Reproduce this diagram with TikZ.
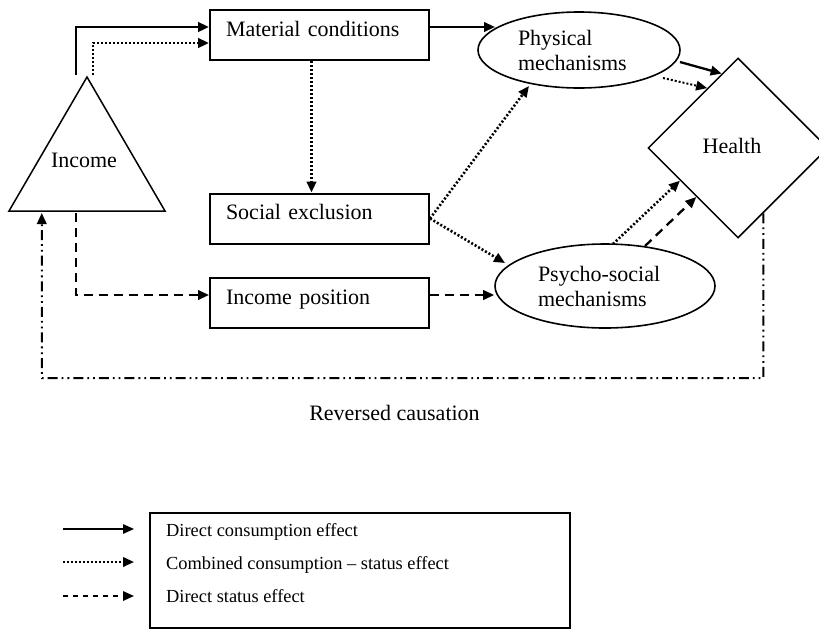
\documentclass[tikz,border=0pt]{standalone}
\usepackage{fontspec}
\setmainfont{Liberation Serif}
\usetikzlibrary{arrows.meta,calc,shapes.geometric}

\newcommand\dgmfont{\fontsize{22}{25}\selectfont}
\newcommand\keyfont{\fontsize{18.4}{21}\selectfont}

\begin{document}
\begin{tikzpicture}[x=1pt,y=-1pt,
  tip/.style={-{Triangle[length=11pt,width=9.5pt]}},
  solidfx/.style={tip, line width=2.3pt},
  dotfx/.style={tip, line width=2.6pt, dash pattern=on 2pt off 2pt},
  dashfx/.style={tip, line width=2.3pt, dash pattern=on 9pt off 6pt},
  revfx/.style={tip, line width=2pt,
    dash pattern=on 10pt off 4pt on 1.8pt off 4pt on 1.8pt off 4pt},
  stagebox/.style={draw, line width=2pt, minimum width=219pt, minimum height=50pt,
    text width=187pt, inner xsep=16pt, align=left,
    text height=0.7em, text depth=0.43em, font=\dgmfont},
  mechell/.style={draw, ellipse, line width=1.6pt, inner sep=0pt, align=left,
    font=\dgmfont},
  plain/.style={font=\dgmfont, inner sep=0pt},
  keytext/.style={font=\keyfont, anchor=base west, inner sep=0pt}]

\useasboundingbox (0,0) rectangle (819,630);

% Income triangle
\coordinate (apex) at (87,77);
\coordinate (bl) at (9,211);
\coordinate (br) at (165,211);
\draw[line width=1.5pt, line join=miter] (apex) -- (br) -- (bl) -- cycle;
\node[plain] (income) at (84,160) {Income};

% Intermediate boxes
\node[stagebox] (mat) at (319.5,35) {Material conditions};
\node[stagebox] (soc) at (319.5,218.5) {Social exclusion};
\node[stagebox] (pos) at (319.5,303) {Income position};

% Mechanisms
\node[mechell, minimum width=202pt, minimum height=76pt, text width=122pt]
  (phys) at (579,50) {Physical\\mechanisms};
\node[mechell, minimum width=220pt, minimum height=84pt, text width=134pt]
  (psy) at (605,286) {Psycho-social\\mechanisms};

% Health
\node[draw, diamond, line width=1.5pt, minimum width=180pt, minimum height=180pt,
  inner sep=0pt] (health) at (738,148) {};
\node[plain] (healthlbl) at (732,146) {Health};

% Income to the three channels
\draw[solidfx, line width=2.8pt] ($(apex)+(-11,-2)$) |- ($(mat.west)+(0,-8)$);
\draw[dotfx] ($(apex)+(6,-2)$) |- ($(mat.west)+(0,8)$);
\draw[dashfx] ($(bl)!0.43!(br)+(0,2)$) |- ($(pos.west)+(0,-8)$);

% Channels to mechanisms
\draw[dotfx] ($(mat.south)+(-8,0)$) -- ($(soc.north)+(-8,0)$);
\draw[solidfx] ($(mat.east)+(0,-8)$) -- ($(phys.center)+(-84,-23)$);
\draw[dotfx] (soc.east) -- ($(phys.center)+(-50,36)$);
\draw[dotfx] (soc.east) -- ($(psy.center)+(-100,-23)$);
\draw[dashfx] ($(pos.east)+(0,-8)$) -- ($(psy.west)+(0,9)$);

% Mechanisms to health
\draw[solidfx] ($(phys.center)+(101,12)$) -- ($(health.north)!0.18!(health.west)$);
\draw[dotfx, line width=2pt] ($(phys.center)+(84,28)$) -- ($(health.north)!0.34!(health.west)$);
\draw[dotfx] ($(psy.center)+(8,-42)$) -- ($(health.west)!0.36!(health.south)$);
\draw[dashfx] ($(psy.center)+(40,-40)$) -- ($(health.west)!0.54!(health.south)$);

% Reversed causation
\coordinate (revcorner) at (42,378);
\draw[revfx] ($(health.south)!0.28!(health.east)$) |- (revcorner)
  -- ($(bl)!0.21!(br)+(0,2)$);
\node[plain] (revlbl) at (394.5,413) {Reversed causation};

% Key
\node[draw, line width=2pt, minimum width=420pt, minimum height=115pt, inner sep=0pt]
  (key) at (360,570.5) {};
\coordinate (k1a) at (63,529); \coordinate (k1b) at (134,529);
\coordinate (k2a) at (63,562); \coordinate (k2b) at (134,562);
\coordinate (k3a) at (63,596); \coordinate (k3b) at (134,596);
\draw[tip, line width=1.5pt] (k1a) -- (k1b);
\draw[tip, line width=2.2pt, dash pattern=on 2pt off 2pt] (k2a) -- (k2b);
\draw[tip, line width=1.6pt, dash pattern=on 5pt off 5pt] (k3a) -- (k3b);
\node[keytext] (key1) at (166,536) {Direct consumption effect};
\node[keytext] (key2) at (166,569) {Combined consumption -- status effect};
\node[keytext] (key3) at (166,602) {Direct status effect};

\end{tikzpicture}
\end{document}
